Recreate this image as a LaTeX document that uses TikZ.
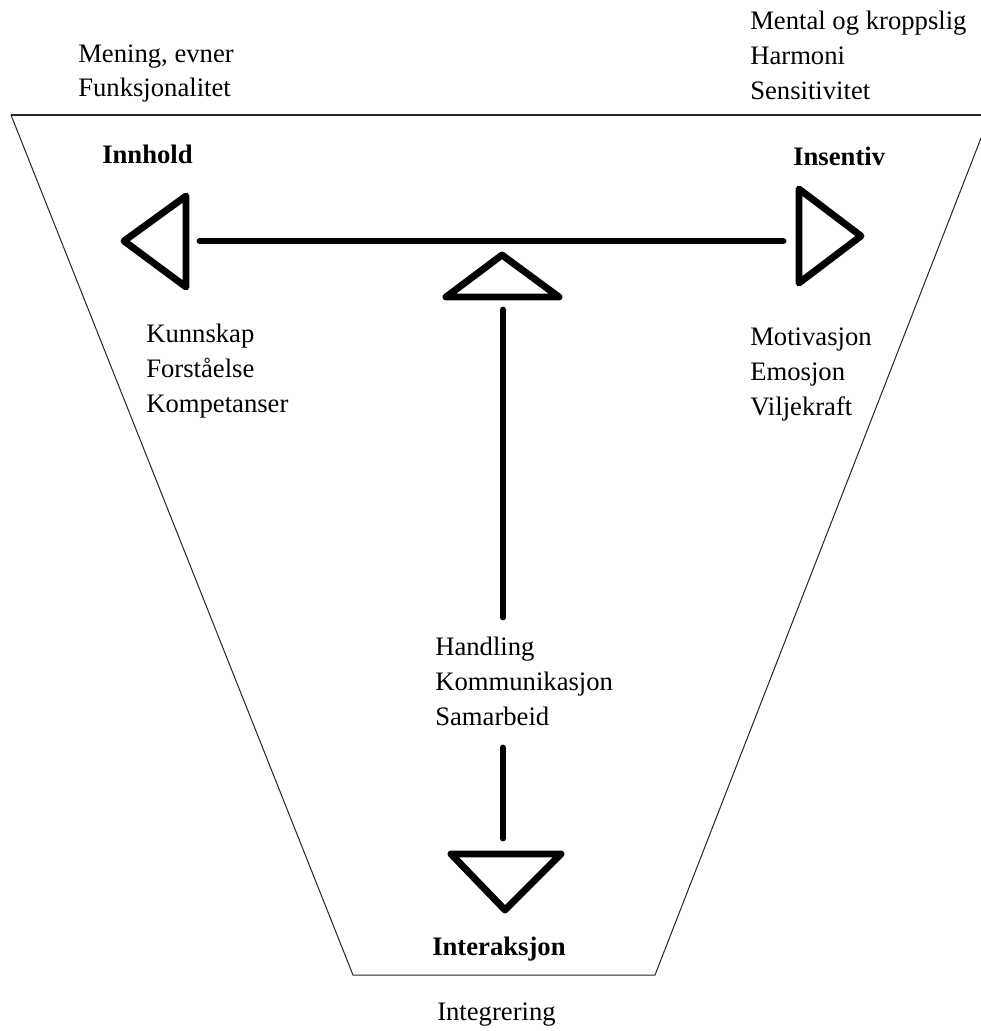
\documentclass[tikz,border=0pt]{standalone}
\usepackage{fontspec}
\setmainfont{Liberation Serif}
\usepackage{tikz}
\usetikzlibrary{calc}

\begin{document}
\begin{tikzpicture}[x=0.75pt,y=-0.75pt,
	trait/.style={line width=5.2pt,line cap=round,line join=round},
	bord/.style={line width=0.75pt,black!85},
	texte/.style={anchor=base west,align=left,inner sep=0pt,font=\fontsize{20pt}{26pt}\selectfont},
	titre/.style={texte,font=\fontsize{20pt}{26pt}\selectfont\bfseries}]
%					Cadre :
					\useasboundingbox (0,0) rectangle (981,1031);
%					Tracé du trapèze :
					\draw[bord,line width=1.1pt] (11,115) -- (990,115);
					\draw[bord] (11,115) -- (353,975) -- (655,975) -- (990,115);
%					Triangles :
					\draw[trait] (124,241) -- (186,196) -- (186,287) -- cycle;
					\draw[trait] (861,236) -- (799,189) -- (799,283) -- cycle;
					\draw[trait] (502,255) -- (446,297) -- (559,297) -- cycle;
					\draw[trait] (505,910) -- (451,854) -- (561,854) -- cycle;
%					Bouts des traits :
					\coordinate (hg) at (200,241);
					\coordinate (hd) at (783,241);
					\coordinate (vh) at (503,310);
					\coordinate (vm) at (503,617);
					\coordinate (vb) at (503,748);
					\coordinate (vf) at (503,838);
%					Tracé des traits :
					\draw[trait] (hg) -- (hd);
					\draw[trait] (vh) -- (vm);
					\draw[trait] (vb) -- (vf);
%					Textes (base de la dernière ligne) :
					\node[texte] (mening) at (78,97) {Mening, evner\\Funksjonalitet};
					\node[texte] (mental) at (750,99) {Mental og kroppslig\\Harmoni\\Sensitivitet};
					\node[titre] (innhold) at (102,163) {Innhold};
					\node[titre] (insentiv) at (793,165) {Insentiv};
					\node[texte] (kunnskap) at (146,412) {Kunnskap\\Forståelse\\Kompetanser};
					\node[texte] (motivasjon) at (750,415) {Motivasjon\\Emosjon\\Viljekraft};
					\node[texte] (handling) at (435,725) {Handling\\Kommunikasjon\\Samarbeid};
					\node[titre] (interaksjon) at (432,955) {Interaksjon};
					\node[texte] (integrering) at (437,1020) {Integrering};
				\end{tikzpicture}
\end{document}
